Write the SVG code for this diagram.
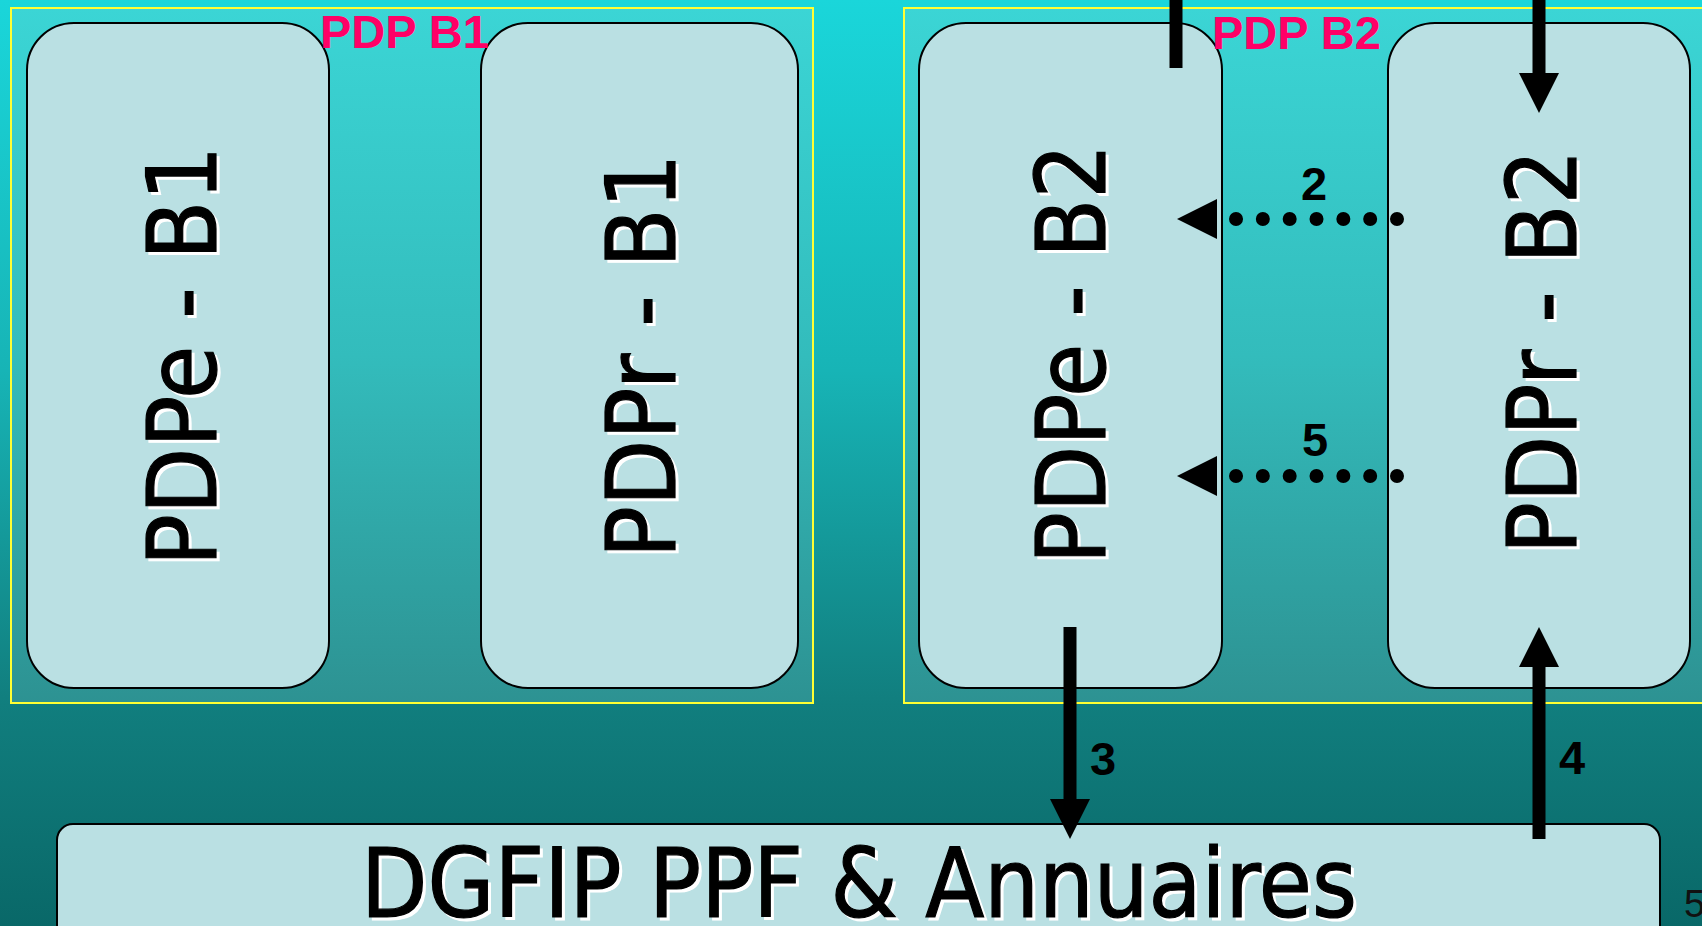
<svg xmlns="http://www.w3.org/2000/svg" width="1702" height="926" viewBox="0 0 1702 926">
  <defs>
    <linearGradient id="bg" x1="0" y1="0" x2="0" y2="1">
      <stop offset="0" stop-color="#1ad6da"/>
      <stop offset="0.4" stop-color="#17b4b6"/>
      <stop offset="0.76" stop-color="#117e7e"/>
      <stop offset="1" stop-color="#096868"/>
    </linearGradient>
    <linearGradient id="frameFill" x1="0" y1="0" x2="0" y2="1">
      <stop offset="0" stop-color="#3bd5d5"/>
      <stop offset="0.5" stop-color="#33bcbc"/>
      <stop offset="1" stop-color="#2d9292"/>
    </linearGradient>
    <marker id="head" markerUnits="userSpaceOnUse" markerWidth="40" markerHeight="40" viewBox="0 0 40 40" refX="0" refY="20" orient="auto">
      <path d="M0,0 L40,20 L0,40 z" fill="#000"/>
    </marker>
    <marker id="headGap" markerUnits="userSpaceOnUse" markerWidth="40" markerHeight="40" viewBox="0 0 40 40" refX="-19" refY="20" orient="auto">
      <path d="M0,0 L40,20 L0,40 z" fill="#000"/>
    </marker>
  </defs>
  <style>
    .frame { fill: url(#frameFill); stroke: #ffff33; stroke-width: 2; }
    .box { fill: #bae0e3; stroke: #000; stroke-width: 2; }
    .big { font-family: "DejaVu Sans Condensed", Tahoma, "DejaVu Sans", sans-serif; font-size: 96px; text-anchor: middle; }
    .dg { font-family: "DejaVu Sans Condensed", Tahoma, "DejaVu Sans", sans-serif; font-size: 96px; text-anchor: middle; }
    .shadow { fill: #ffffff; stroke: #ffffff; stroke-width: 1.2; }
    .ink { fill: #000000; stroke: #000000; stroke-width: 1.2; }
    .pdp { font-family: "Liberation Sans", Arial, sans-serif; font-weight: bold; font-size: 47px; fill: #ff0066; }
    .num { font-family: "Liberation Sans", Arial, sans-serif; font-weight: bold; font-size: 47px; fill: #000; text-anchor: middle; }
    .solid { stroke: #000; stroke-width: 13; fill: none; stroke-linecap: butt; }
    .dots { stroke: #000; stroke-width: 14; fill: none; stroke-linecap: round; stroke-dasharray: 0 26.83; }
    .page { font-family: "Liberation Sans", Arial, sans-serif; font-size: 38px; fill: #111; }
  </style>

  <rect x="0" y="0" width="1702" height="926" fill="url(#bg)"/>

  <g id="frame-b1">
    <rect class="frame" x="11" y="8" width="802" height="695"/>
  </g>
  <g id="frame-b2">
    <rect class="frame" x="904" y="8" width="820" height="695"/>
  </g>

  <g id="pdpe-b1">
    <rect class="box" x="27" y="23" width="302" height="665" rx="47" ry="47"/>
    <text class="big shadow" transform="translate(219,359) rotate(-90)">PDPe - B1</text>
    <text class="big ink" transform="translate(216,356) rotate(-90)">PDPe - B1</text>
  </g>
  <g id="pdpr-b1">
    <rect class="box" x="481" y="23" width="317" height="665" rx="47" ry="47"/>
    <text class="big shadow" transform="translate(678,359) rotate(-90)">PDPr - B1</text>
    <text class="big ink" transform="translate(675,356) rotate(-90)">PDPr - B1</text>
  </g>
  <g id="pdpe-b2">
    <rect class="box" x="919" y="23" width="303" height="665" rx="47" ry="47"/>
    <text class="big shadow" transform="translate(1108,357) rotate(-90)">PDPe - B2</text>
    <text class="big ink" transform="translate(1105,354) rotate(-90)">PDPe - B2</text>
  </g>
  <g id="pdpr-b2">
    <rect class="box" x="1388" y="23" width="302" height="665" rx="47" ry="47"/>
    <text class="big shadow" transform="translate(1579,355) rotate(-90)">PDPr - B2</text>
    <text class="big ink" transform="translate(1576,352) rotate(-90)">PDPr - B2</text>
  </g>

  <g id="label-b1">
    <text class="pdp" x="320" y="48">PDP B1</text>
  </g>
  <g id="label-b2">
    <text class="pdp" x="1212" y="49">PDP B2</text>
  </g>

  <g id="dgfip">
    <rect class="box" x="57" y="824" width="1603" height="130" rx="16" ry="16"/>
    <text class="dg shadow" x="862" y="920" textLength="996" lengthAdjust="spacingAndGlyphs">DGFIP PPF &amp; Annuaires</text>
    <text class="dg ink" x="859" y="917" textLength="996" lengthAdjust="spacingAndGlyphs">DGFIP PPF &amp; Annuaires</text>
  </g>

  <g id="connectors">
    <line class="solid" x1="1176" y1="-5" x2="1176" y2="68"/>
    <line class="solid" x1="1539" y1="-5" x2="1539" y2="73" marker-end="url(#head)"/>
    <line class="dots" x1="1397" y1="219" x2="1236" y2="219" marker-end="url(#headGap)"/>
    <line class="dots" x1="1397" y1="476" x2="1236" y2="476" marker-end="url(#headGap)"/>
    <line class="solid" x1="1070" y1="627" x2="1070" y2="799" marker-end="url(#head)"/>
    <line class="solid" x1="1539" y1="839" x2="1539" y2="667" marker-end="url(#head)"/>
    <text class="num" x="1314" y="200">2</text>
    <text class="num" x="1315" y="456">5</text>
    <text class="num" x="1103" y="775">3</text>
    <text class="num" x="1572" y="774">4</text>
  </g>

  <text class="page" x="1684" y="917">5</text>
</svg>
